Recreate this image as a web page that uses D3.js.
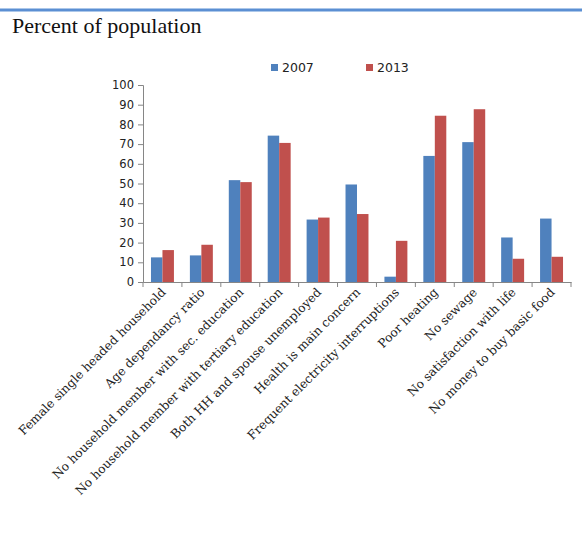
<!DOCTYPE html>
<html>
<head>
<meta charset="utf-8">
<script src="https://cdnjs.cloudflare.com/ajax/libs/d3/7.8.5/d3.min.js"></script>
<style>
  body { margin: 0; background: #fff; }
</style>
</head>
<body>
<div id="grafico"></div>
<script>
// datos
var categorias = ["Female single headed household", "Age dependancy ratio",
  "No household member with sec. education", "No household member with tertiary education",
  "Both HH and spouse  unemployed", "Health is main concern",
  "Frequent electricity interruptions", "Poor heating", "No sewage",
  "No satisfaction with life", "No money to buy basic food"];
var series = ["2007", "2013"];
var valores2007 = [12.5, 13.5, 51.7, 74.3, 31.7, 49.5, 2.7, 64, 71, 22.6, 32.2];
var valores2013 = [16.2, 18.9, 50.7, 70.6, 32.7, 34.5, 20.9, 84.4, 87.7, 11.8, 12.8];
var ticksY = [0, 10, 20, 30, 40, 50, 60, 70, 80, 90, 100];
var colores = ["#4f81bd", "#c0504d"];

var b = 582, h = 542;
var margen = {arriba: 85, derecha: 11, abajo: 260, izquierda: 143};

var svg = d3.select("#grafico").append("svg")
  .attr("width", b).attr("height", h);

// linea azul superior y titulo
svg.append("rect").attr("x", 0).attr("y", 8.5).attr("width", b).attr("height", 3)
  .attr("fill", "#5b8fd3");
svg.append("text").attr("x", 12).attr("y", 33)
  .text("Percent of population")
  .style("font-family", "'Liberation Serif', serif").style("font-size", "22px")
  .attr("fill", "#111");

var ancho = b - margen.izquierda - margen.derecha;
var alto = 282 - margen.arriba;

var g = svg.append("g")
  .attr("transform", "translate(" + margen.izquierda + "," + margen.arriba + ")");

var x = d3.scaleBand().domain(categorias).range([0, ancho]).paddingInner(0.41).paddingOuter(0.205);
var xt = d3.scaleBand().domain(categorias).range([0, ancho]);
var xs = d3.scaleBand().domain(series).range([0, x.bandwidth()]);
var y = d3.scaleLinear().domain([0, 100]).range([alto, 0]);

var filas = categorias.map(function (c, i) {
  return {cat: c, vals: [valores2007[i], valores2013[i]]};
});

var grupos = g.selectAll("g.cat").data(filas).enter().append("g")
  .attr("class", "cat")
  .attr("transform", function (d) { return "translate(" + x(d.cat) + ",0)"; });

grupos.selectAll("rect").data(function (d) {
    return d.vals.map(function (v, j) { return {serie: series[j], v: v, j: j}; });
  }).enter().append("rect")
  .attr("x", function (d) { return xs(d.serie); })
  .attr("y", function (d) { return y(d.v); })
  .attr("width", xs.bandwidth())
  .attr("height", function (d) { return alto - y(d.v); })
  .attr("fill", function (d) { return colores[d.j]; });

// eje y
var ejeY = g.append("g")
  .call(d3.axisLeft(y).tickValues(ticksY).tickSize(5).tickPadding(4));
ejeY.selectAll("text").style("font-family", "'DejaVu Sans', sans-serif")
  .style("font-size", "11.5px").attr("fill", "#222");
ejeY.selectAll("line, path").attr("stroke", "#868686");

// eje x
var ejeX = g.append("g").attr("transform", "translate(0," + alto + ")")
  .call(d3.axisBottom(xt).tickSize(0).tickFormat(""));
ejeX.select("path").attr("stroke", "#868686");
ejeX.selectAll(".tick").remove();
var limites = d3.range(categorias.length + 1).map(function (i) { return i * xt.step(); });
ejeX.selectAll("line.marca").data(limites).enter().append("line")
  .attr("class", "marca")
  .attr("x1", function (d) { return d; }).attr("x2", function (d) { return d; })
  .attr("y1", 0).attr("y2", 5).attr("stroke", "#868686");

ejeX.selectAll("text.etiqueta").data(categorias).enter().append("text")
  .attr("class", "etiqueta")
  .attr("transform", function (d) {
    return "translate(" + (xt(d) + xt.bandwidth() / 2 + 1) + ",8)rotate(-45)";
  })
  .attr("text-anchor", "end")
  .attr("dy", "0.35em")
  .style("font-family", "'DejaVu Serif', serif").style("font-size", "12.2px")
  .attr("fill", "#222")
  .text(function (d) { return d; });

// leyenda
var leyenda = svg.append("g").selectAll("g").data(series).enter().append("g")
  .attr("transform", function (d, i) { return "translate(" + (271 + i * 95) + ",64)"; });
leyenda.append("rect").attr("width", 7).attr("height", 7)
  .attr("fill", function (d, i) { return colores[i]; });
leyenda.append("text").attr("x", 11).attr("y", 8)
  .text(function (d) { return d; })
  .style("font-family", "'DejaVu Sans', sans-serif").style("font-size", "12.5px")
  .attr("fill", "#222");
</script>
</body>
</html>
